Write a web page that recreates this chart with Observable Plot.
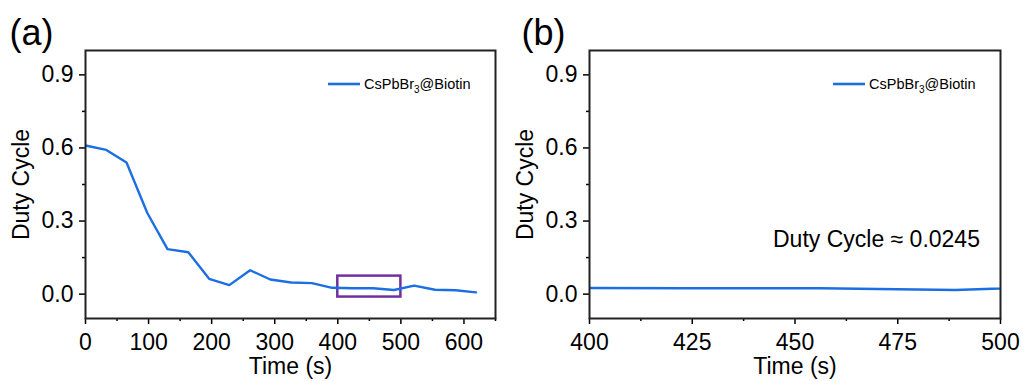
<!DOCTYPE html>
<html><head><meta charset="utf-8">
<script src="https://cdn.jsdelivr.net/npm/d3@7"></script>
<script src="https://cdn.jsdelivr.net/npm/@observablehq/plot@0.6"></script>
<style>
body{margin:0;background:#fff;}
#wrap{display:flex;width:1024px;height:381px;background:#fff;}
</style></head><body><div id="wrap"></div>
<script>
// ---- data ----
const seriesName = "CsPbBr3@Biotin";
const time = [0,33,65,98,130,163,196,228,261,293,326,359,391,424,456,489,521,554,587,619];
const duty = [0.610,0.592,0.540,0.333,0.185,0.172,0.063,0.037,0.098,0.060,0.048,0.045,0.026,0.024,0.024,0.017,0.035,0.018,0.016,0.007];
const yMajor = [0, 0.3, 0.6, 0.9];
const yMinor = [0.15, 0.45, 0.75];
const xMajorA = [0,100,200,300,400,500,600];
const xMinorA = [50,150,250,350,450,550,650];
const xMajorB = [400,425,450,475,500];
const xMinorB = [412.5,437.5,462.5,487.5];
const zoomWindow = [{x1:400, x2:500, y1:-0.012, y2:0.074}];
const noteB = [{x:495, y:0.225, text:"Duty Cycle ≈ 0.0245"}];

const data = time.map((t,i)=>({t, d:duty[i]}));
const BLUE = "#1c6fe2", PURPLE = "#7030a0";
const FONT = "Arial, 'Liberation Sans', sans-serif";

function panel({letter, xDomain, xMajor, xMinor, mL, mR, rects, notes}) {
  const W = 512, H = 381, mT = 50, mB = 63;
  const svg = Plot.plot({
    width: W, height: H,
    marginLeft: mL, marginRight: mR, marginTop: mT, marginBottom: mB,
    style: `font-family:${FONT};font-size:23px;color:#000;background:#fff;`,
    x: {domain: xDomain},
    y: {domain: [-0.1, 1.0]},
    marks: [
      Plot.axisX(xMinor, {tickSize:3, tickFormat:()=>"", label:null, strokeWidth:1.5}),
      Plot.axisX(xMajor, {tickSize:6, tickPadding:9, label:null, strokeWidth:1.5, fontSize:23}),
      Plot.axisY(yMinor, {tickSize:3, tickFormat:()=>"", label:null, strokeWidth:1.5}),
      Plot.axisY(yMajor, {tickSize:6, tickPadding:6, tickFormat:d3.format(".1f"), label:null, strokeWidth:1.5, fontSize:23}),
      Plot.rect(rects, {x1:"x1", x2:"x2", y1:"y1", y2:"y2", fill:"none", stroke:PURPLE, strokeWidth:2.5}),
      Plot.line(data, {x:"t", y:"d", stroke:BLUE, strokeWidth:2.4, clip:true}),
      Plot.text(notes, {x:"x", y:"y", text:"text", textAnchor:"end", fontSize:23, fill:"#000"}),
      Plot.frame({stroke:"#222", strokeWidth:2}),
      Plot.text(["Time (s)"], {text:d=>d, frameAnchor:"bottom", dy:48, lineAnchor:"middle", fontSize:23}),
      Plot.text(["Duty Cycle"], {text:d=>d, frameAnchor:"left", rotate:-90, dx:-64, textAnchor:"middle", lineAnchor:"middle", fontSize:23}),
      Plot.text([letter], {text:d=>d, frameAnchor:"top-left", dx: -(mL-9), dy:-17, textAnchor:"start", lineAnchor:"middle", fontSize:36})
    ]
  });
  // legend
  const right = W - mR;
  const g = d3.select(svg).append("g").attr("text-anchor", "start");
  g.append("line").attr("x1", right-167).attr("x2", right-135).attr("y1", 84).attr("y2", 84)
    .attr("stroke", BLUE).attr("stroke-width", 2.6);
  const t = g.append("text").attr("x", right-131).attr("y", 89).attr("font-size", 14.5)
    .attr("font-family", FONT).attr("fill", "#000").attr("text-anchor", "start");
  t.append("tspan").text("CsPbBr");
  t.append("tspan").attr("dy", 3.5).attr("font-size", 10).text("3");
  t.append("tspan").attr("dy", -3.5).text("@Biotin");
  return svg;
}

const wrap = document.getElementById("wrap");
wrap.appendChild(panel({letter:"(a)", xDomain:[0,650], xMajor:xMajorA, xMinor:xMinorA, mL:85, mR:17, rects:zoomWindow, notes:[]}));
wrap.appendChild(panel({letter:"(b)", xDomain:[400,500], xMajor:xMajorB, xMinor:xMinorB, mL:77, mR:24, rects:[], notes:noteB}));
</script></body></html>
